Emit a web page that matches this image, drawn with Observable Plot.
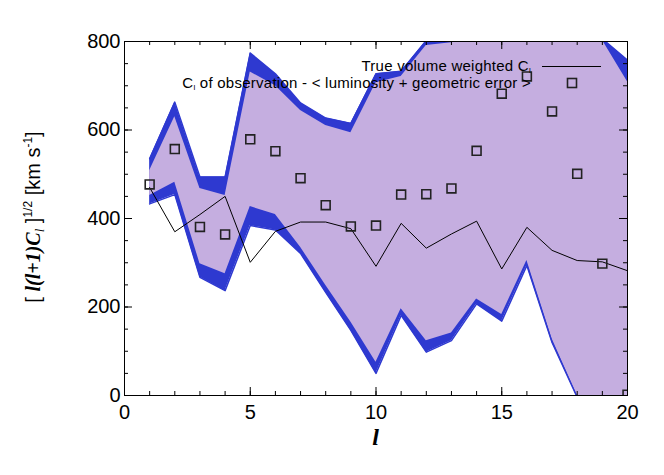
<!DOCTYPE html>
<html><head><meta charset="utf-8">
<script src="https://cdn.jsdelivr.net/npm/d3@7"></script>
<script src="https://cdn.jsdelivr.net/npm/@observablehq/plot@0.6"></script>
<style>
body{margin:0;background:#fff;}
#chart{position:relative;width:664px;height:475px;}
</style></head><body><div id="chart"></div>
<script>
// multipole l
const ells = d3.range(1, 21);
// band edges (km/s)
const upperOuter = [535, 663, 494, 494, 774, 727, 661, 627, 615, 727, 733, 802, 815, 835, 880, 900, 880, 860, 806, 758];
const upperInner = [508, 630, 468, 452, 731, 700, 644, 610, 594, 707, 721, 791, 797, 805, 860, 880, 860, 840, 803, 709];
const lowerInner = [452, 482, 298, 275, 427, 409, 335, 249, 166, 75, 196, 124, 141, 218, 183, 305, 128, 0, -60, -60];
const lowerOuter = [433, 454, 267, 237, 384, 374, 321, 233, 147, 50, 181, 98, 124, 207, 168, 294, 120, -4, -70, -70];
// true volume weighted C_l
const trueCl = [470, 370, 409, 450, 301, 371, 392, 392, 377, 292, 389, 333, 365, 394, 286, 380, 328, 305, 302, 282];
// observation squares
const obsCl = [477, 557, 381, 364, 579, 552, 491, 430, 382, 384, 454, 455, 468, 553, 682, 721, 642, 501, 298, 2];
// ticks
const xMajor = [0, 5, 10, 15, 20];
const xMinor = d3.range(0, 21, 1);
const yMajor = [0, 200, 400, 600, 800];
const yMinor = d3.range(0, 801, 50);

const band = ells.map((l, i) => ({l, uo: upperOuter[i], ui: upperInner[i], li: lowerInner[i], lo: lowerOuter[i]}));
const trueData = ells.map((l, i) => ({l, v: trueCl[i]}));
const obsData = ells.map((l, i) => ({l, v: obsCl[i]}));

const BLUE = "#2e39d0", PURPLE = "#c5aee0", TICK = "#000";
const W = 664, H = 475, ML = 124, MR = 37, MT = 41, MB = 80;
const FW = W - ML - MR, FH = H - MT - MB;

const svg = Plot.plot({
  width: W, height: H,
  marginLeft: ML, marginRight: MR, marginTop: MT, marginBottom: MB,
  style: {fontFamily: "'Liberation Sans', Arial, sans-serif", fontSize: "20px", background: "#fff", color: "#000"},
  x: {domain: [0, 20]},
  y: {domain: [0, 800]},
  marks: [
    Plot.areaY(band, {x: "l", y1: "lo", y2: "uo", fill: BLUE, clip: true}),
    Plot.areaY(band, {x: "l", y1: "li", y2: "ui", fill: PURPLE, clip: true}),
    Plot.line(band, {x: "l", y: "lo", stroke: BLUE, strokeWidth: 1.5, clip: true}),
    Plot.line(band, {x: "l", y: "uo", stroke: BLUE, strokeWidth: 1.5, clip: true}),
    Plot.line(trueData, {x: "l", y: "v", stroke: "#000", strokeWidth: 1, clip: true}),
    Plot.dot(obsData, {x: "l", y: "v", symbol: "square", r: 5, stroke: "#222", strokeWidth: 1.6, fill: "none", clip: true}),
    // inward ticks on all four sides
    Plot.tickX(xMinor, {x: d => d, insetTop: FH - 4, stroke: TICK}),
    Plot.tickX(xMajor, {x: d => d, insetTop: FH - 8, stroke: TICK}),
    Plot.tickX(xMinor, {x: d => d, insetBottom: FH - 4, stroke: TICK}),
    Plot.tickX(xMajor, {x: d => d, insetBottom: FH - 8, stroke: TICK}),
    Plot.tickY(yMinor, {y: d => d, insetRight: FW - 4, stroke: TICK}),
    Plot.tickY(yMajor, {y: d => d, insetRight: FW - 8, stroke: TICK}),
    Plot.tickY(yMinor, {y: d => d, insetLeft: FW - 4, stroke: TICK}),
    Plot.tickY(yMajor, {y: d => d, insetLeft: FW - 8, stroke: TICK}),
    Plot.frame({stroke: "#000", strokeWidth: 1}),
    Plot.axisX({ticks: xMajor, tickSize: 0, tickPadding: 9, label: null, anchor: "bottom"}),
    Plot.axisY({ticks: yMajor, tickSize: 0, tickPadding: 4, label: null, anchor: "left"})
  ]
});
document.getElementById("chart").appendChild(svg);

const s = d3.select(svg);
const serif = "'Liberation Serif', 'Times New Roman', serif";
// y label
const yl = s.append("text").attr("transform", "translate(40,217) rotate(-90)")
  .attr("text-anchor", "middle").attr("font-size", 20).attr("fill", "#000");
yl.append("tspan").text("[ ");
yl.append("tspan").attr("font-family", serif).attr("font-style", "italic").attr("font-weight", "bold").text("l(l+1)C");
yl.append("tspan").attr("font-family", serif).attr("font-style", "italic").attr("font-size", 13).attr("dy", 4).text("l");
yl.append("tspan").attr("dy", -4).text(" ]");
yl.append("tspan").attr("font-size", 12).attr("dy", -8).text("1/2");
yl.append("tspan").attr("dy", 8).text(" [km s");
yl.append("tspan").attr("font-size", 12).attr("dy", -8).text("-1");
yl.append("tspan").attr("dy", 8).text("]");
// x label
s.append("text").attr("x", 375.5).attr("y", 445).attr("text-anchor", "middle")
  .attr("font-family", serif).attr("font-style", "italic").attr("font-weight", "bold")
  .attr("font-size", 24).attr("fill", "#000").text("l");
// legend
const t1 = s.append("text").attr("x", 531).attr("y", 70.5).attr("text-anchor", "end").attr("font-size", 15).attr("letter-spacing", 0.25).attr("fill", "#000");
t1.append("tspan").text("True volume weighted C");
t1.append("tspan").attr("font-size", 8).attr("dy", 2).text("l");
const t2 = s.append("text").attr("x", 531).attr("y", 87.5).attr("text-anchor", "end").attr("font-size", 15).attr("letter-spacing", 0.25).attr("fill", "#000");
t2.append("tspan").text("C");
t2.append("tspan").attr("font-size", 8).attr("dy", 2).text("l");
t2.append("tspan").attr("dy", -2).text(" of observation - < luminosity + geometric error >");
s.append("line").attr("x1", 542).attr("x2", 601).attr("y1", 66.5).attr("y2", 66.5).attr("stroke", "#000").attr("stroke-width", 1);
s.append("rect").attr("x", 567.5).attr("y", 78.5).attr("width", 9).attr("height", 9).attr("fill", "none").attr("stroke", "#222").attr("stroke-width", 1.6);
</script>
</body></html>
